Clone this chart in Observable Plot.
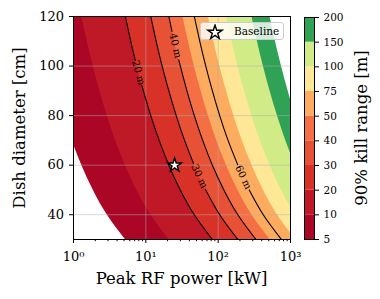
<!DOCTYPE html>
<html>
<head>
<meta charset="utf-8">
<style>
  body { margin: 0; background: #fff; }
  #c { position: relative; width: 380px; height: 299px; font-family: "DejaVu Serif", serif; }
  #c > svg { position: absolute; top: 0; }
  .lab { position: absolute; font: 16.5px "DejaVu Serif", serif; line-height: 18px; height: 18px;
         text-align: center; white-space: nowrap; color: #000; }
  #xl { left: 61px; width: 241px; top: 269.5px; }
  #yl { left: -100.5px; width: 240px; top: 118.5px; transform: rotate(-90deg); }
  #cl { left: 241.5px; width: 240px; top: 119px; transform: rotate(-90deg); }
  #leg { position: absolute; left: 200px; top: 22px; width: 84px; height: 18px; box-sizing: border-box;
         border: 1px solid #cccccc; border-radius: 3px; background: rgba(255,255,255,0.8);
         font: 10.5px "DejaVu Serif", serif; color: #000; }
  #leg svg { position: absolute; left: 5px; top: 1px; }
  #leg span { position: absolute; left: 33px; top: 1px; line-height: 14px; }
</style>
<script src="https://cdn.jsdelivr.net/npm/d3@7"></script>
<script src="https://cdn.jsdelivr.net/npm/@observablehq/plot@0.6"></script>
</head>
<body>
<div id="c"></div>
<script>
// Dish diameters (cm) at which the band boundaries were read
const diameters = [30, 40, 50, 60, 70, 80, 90, 100, 110, 120];
// Colour-bar levels (m)
const levels = [5, 10, 20, 30, 40, 50, 75, 100, 150, 200];
const levelColors = ["#ab0626", "#bf1927", "#d83228", "#e75136", "#f47044", "#fdab5f", "#fee797", "#d1ec86", "#2fa255", "#ffffff"];

// Peak RF power (kW) at which the kill range reaches each level, per diameter
const edge5   = [5.20, 2.92, 1.87, 1.30, 0.954, 0.731, 0.578, 0.468, 0.387, 0.325];
const edge10  = [20.8, 11.7, 7.48, 5.20, 3.82, 2.92, 2.31, 1.87, 1.55, 1.30];
const edge20  = [83.2, 46.7, 29.9, 20.8, 15.3, 11.7, 9.25, 7.49, 6.19, 5.20];
const edge30  = [187, 105, 67.3, 46.8, 34.3, 26.3, 20.8, 16.8, 13.9, 11.7];
const edge40  = [333, 187, 120, 83.2, 61.1, 46.8, 37.0, 30.0, 24.8, 20.8];
const edge50  = [520, 292, 187, 130, 95.4, 73.1, 57.8, 46.8, 38.7, 32.5];
const edge75  = [1170, 657, 421, 293, 215, 164, 130, 105, 87.1, 73.1];
const edge100 = [2080, 1168, 748, 520, 382, 292, 231, 187, 155, 130];
const edge150 = [4680, 2628, 1683, 1170, 859, 658, 520, 421, 348, 293];
const edge200 = [8320, 4672, 2992, 2080, 1526, 1170, 925, 749, 619, 520];
const boundaries = [edge5, edge10, edge20, edge30, edge40, edge50, edge75, edge100, edge150, edge200];

// Labelled contour lines (gaps = NaN where the inline label sits)
const line20D = [30, 40, 50, 60, 70, 80, 90, 92.2, 95, 102.3, 110, 120];
const line20P = [83.2, 46.7, 29.9, 20.8, 15.3, 11.7, 9.25, 8.80, NaN, 7.15, 6.19, 5.20];
const line30D = [30, 40, 50.4, 55, 60.6, 70, 80, 90, 100, 110, 120];
const line30P = [187, 105, 66.3, NaN, 45.8, 34.3, 26.3, 20.8, 16.8, 13.9, 11.7];
const line40D = [30, 40, 50, 60, 70, 80, 90, 100, 102.5, 108, 114, 120];
const line40P = [333, 187, 120, 83.2, 61.1, 46.8, 37.0, 30.0, 28.5, NaN, 23.0, 20.8];
const line60D = [30, 40, 50, 55, 60.2, 70, 80, 90, 100, 110, 120];
const line60P = [749, 420, 269, NaN, 186, 137, 105, 83.2, 67.4, 55.7, 46.8];

const labelText  = ["20 m", "40 m", "30 m", "60 m"];
const labelD     = [97.3, 108.2, 55.5, 55.1];
const labelP     = [7.91, 25.6, 54.7, 222];
const labelAngle = [75, 77, 65, 65];

const baselineP = [25];
const baselineD = [60];

const xMajor = [1, 10, 100, 1000];
const xMinor = [2,3,4,5,6,7,8,9,20,30,40,50,60,70,80,90,200,300,400,500,600,700,800,900];
const yTicks = [40, 60, 80, 100, 120];
const sup = {1: "\u2070", 10: "\u00b9", 100: "\u00b2", 1000: "\u00b3"};

const xTitle = "Peak RF power [kW]";
const yTitle = "Dish diameter [cm]";
const cTitle = "90% kill range [m]";
const legendLabel = "Baseline";

const colorScale = {type: "ordinal", domain: levels, range: levelColors};
const font = "DejaVu Serif";

const bandMarks = levels.map((L, k) =>
  Plot.areaX(diameters, {
    y: d => d, x1: (d, i) => boundaries[k][i], x2: () => 1e5,
    fill: () => L, curve: "natural", clip: true
  })
);
const lineSets = [[line20D, line20P], [line30D, line30P], [line40D, line40P], [line60D, line60P]];
const lineMarks = lineSets.map(([D, P]) =>
  Plot.line(D, {x: (d, i) => P[i], y: d => d, curve: "natural", stroke: "black", strokeWidth: 1.1, clip: true})
);

const main = Plot.plot({
  width: 380, height: 299,
  marginLeft: 73, marginRight: 90, marginTop: 16, marginBottom: 60,
  style: {fontFamily: font, fontSize: "13px", background: "transparent"},
  x: {type: "log", domain: [1, 1000], axis: null},
  y: {domain: [30, 120], axis: null},
  color: colorScale,
  marks: [
    ...bandMarks,
    Plot.gridX([10, 100], {stroke: "#b0b0b0", strokeOpacity: 0.55, strokeWidth: 0.9}),
    Plot.gridY([40, 60, 80, 100], {stroke: "#b0b0b0", strokeOpacity: 0.55, strokeWidth: 0.9}),
    ...lineMarks,
    Plot.text(labelText, {x: (d, i) => labelP[i], y: (d, i) => labelD[i], rotate: (d, i) => labelAngle[i],
      text: d => d, fontSize: 10, fontFamily: font, fill: "black"}),
    Plot.dot(baselineP, {x: d => d, y: (d, i) => baselineD[i], symbol: "star", r: 4.3,
      fill: "white", stroke: "black", strokeWidth: 1.4}),
    Plot.frame({stroke: "black", strokeWidth: 1}),
    Plot.axisX(xMajor, {tickSize: 4, tickPadding: 8, tickFormat: d => "10" + sup[d], fontSize: 13, label: null}),
    Plot.axisX(xMinor, {tickSize: 2.2, tickFormat: () => "", label: null}),
    Plot.axisY(yTicks, {tickSize: 4, tickPadding: 5.5, fontSize: 13, label: null})
  ]
});
main.style.left = "0px";

const idx = d3.range(levels.length - 1);
const bar = Plot.plot({
  width: 90, height: 299,
  marginLeft: 14, marginRight: 66, marginTop: 17, marginBottom: 60,
  style: {fontFamily: font, fontSize: "10.5px", background: "transparent"},
  x: {domain: [0, 1], axis: null},
  y: {domain: [0, levels.length - 1], axis: null},
  color: colorScale,
  marks: [
    Plot.rect(idx, {x1: 0, x2: 1, y1: i => i, y2: i => i + 1, fill: i => levels[i]}),
    Plot.frame({stroke: "black", strokeWidth: 1}),
    Plot.axisY(d3.range(levels.length), {anchor: "right", tickSize: 4, tickPadding: 5,
      tickFormat: i => levels[i], fontSize: 10.5, label: null})
  ]
});
bar.style.left = "290px";

const c = document.getElementById("c");
c.append(main, bar);

function addLabel(id, text) {
  const d = document.createElement("div");
  d.className = "lab"; d.id = id; d.textContent = text;
  c.append(d);
}
addLabel("xl", xTitle);
addLabel("yl", yTitle);
addLabel("cl", cTitle);

// legend
const leg = document.createElement("div");
leg.id = "leg";
const starPath = d3.symbol(d3.symbolStar, 62)();
leg.innerHTML = `<svg width="18" height="16" viewBox="-9 -8 18 16"><path d="${starPath}" transform="translate(0,0.5)" fill="white" stroke="black" stroke-width="1.4"/></svg><span></span>`;
leg.querySelector("span").textContent = legendLabel;
c.append(leg);
</script>
</body>
</html>
